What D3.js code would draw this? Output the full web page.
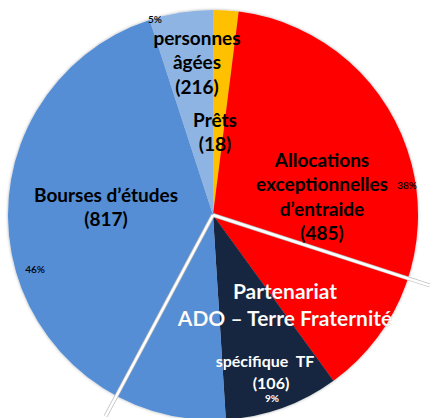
<!DOCTYPE html>
<html>
<head>
<meta charset="utf-8">
<script src="https://cdn.jsdelivr.net/npm/d3@7"></script>
<style>
  body { margin: 0; background: #fff; }
  svg { display: block; }
  text { white-space: pre; }
</style>
</head>
<body>
<div class="pie-plot"></div>
<script>
// data
const categories = ["Prêts", "Allocations exceptionnelles d’entraide", "spécifique TF", "Bourses d’études", "personnes âgées"];
const shares = [2, 38, 9, 46, 5];          // percent
const counts = [18, 485, 106, 817, 216];
const pctLabels = ["", "38%", "9%", "46%", "5%"];
// partenariat ADO - Terre Fraternité, from / to on the same percent scale
const partenariatRange = [30, 57.8];

const colors = ["#FFC000", "#FF0000", "#15263F", "#558ED5", "#8EB4E3"];

const width = 430;
const height = 418;
const cx = 213, cy = 215, radius = 205;

const svg = d3.select('.pie-plot')
  .append('svg')
  .attr('width', width)
  .attr('height', height)

const defs = svg.append("defs")
const f = defs.append("filter").attr("id", "shadow")
  .attr("x", "-10%").attr("y", "-10%").attr("width", "120%").attr("height", "120%")
f.append("feDropShadow").attr("dx", 0).attr("dy", 0).attr("stdDeviation", 1.5)
  .attr("flood-color", "#000").attr("flood-opacity", 0.35)

const g = svg.append("g").attr("transform", `translate(${cx},${cy})`)

const data = categories.map((c, i) => ({ name: c, share: shares[i], count: counts[i], pct: pctLabels[i], color: colors[i] }))

const pie = d3.pie().value(d => d.share).sort(null)
const arc = d3.arc().innerRadius(0).outerRadius(radius)
const arcs = pie(data)

g.append("g").attr("filter", "url(#shadow)")
  .selectAll("path")
  .data(arcs)
  .enter()
  .append("path")
  .attr("d", arc)
  .attr("fill", d => d.data.color)

// white separator lines for the partenariat group
const angle = d3.scaleLinear().domain([0, d3.sum(shares)]).range([0, 2 * Math.PI])
const lineLen = radius + 23
g.selectAll("line.sep")
  .data(partenariatRange)
  .enter()
  .append("line")
  .attr("class", "sep")
  .attr("x1", 0).attr("y1", 0)
  .attr("x2", d => Math.sin(angle(d)) * lineLen)
  .attr("y2", d => -Math.cos(angle(d)) * lineLen)
  .attr("stroke", "#bbb")
  .attr("stroke-width", 4)
g.selectAll("line.sep2")
  .data(partenariatRange)
  .enter()
  .append("line")
  .attr("x1", 0).attr("y1", 0)
  .attr("x2", d => Math.sin(angle(d)) * lineLen)
  .attr("y2", d => -Math.cos(angle(d)) * lineLen)
  .attr("stroke", "#fff")
  .attr("stroke-width", 2.5)

// label layout (offsets from the pie centre)
const font = "Lato, 'Open Sans', sans-serif"
const labelLines = {
  "Prêts": { x: 2, y: -88, lines: ["Prêts", "(18)"] },
  "Allocations exceptionnelles d’entraide": { x: 109, y: -48, lines: ["Allocations", "exceptionnelles", "d’entraide", "(485)"] },
  "spécifique TF": { x: 52, y: 152, lines: ["spécifique  TF", "(106)"], fill: "#fff", size: 16, step: 21.5 },
  "Bourses d’études": { x: -107, y: -13, lines: ["Bourses d’études", "(817)"] },
  "personnes âgées": { x: -16, y: -170, lines: ["personnes", "âgées", "(216)"] }
}
const pctPos = {
  "Allocations exceptionnelles d’entraide": { x: 194, y: -26 },
  "spécifique TF": { x: 59, y: 187, fill: "#fff" },
  "Bourses d’études": { x: -178, y: 58 },
  "personnes âgées": { x: -58, y: -192 }
}

data.forEach(d => {
  const l = labelLines[d.name]
  g.append("text")
    .attr("text-anchor", "middle")
    .attr("font-family", font)
    .attr("font-weight", "bold")
    .attr("font-size", l.size || 19)
    .attr("fill", l.fill || "#000")
    .selectAll("tspan")
    .data(l.lines)
    .enter()
    .append("tspan")
    .attr("x", (t, i) => l.x + (d.name == "spécifique TF" && i == 1 ? 6 : 0))
    .attr("y", (t, i) => l.y + i * (l.step || 24.3))
    .text(t => t)
  const p = pctPos[d.name]
  if (p) {
    g.append("text")
      .attr("x", p.x).attr("y", p.y)
      .attr("text-anchor", "middle")
      .attr("font-family", font)
      .attr("font-weight", d.name == "spécifique TF" ? "bold" : 600)
      .attr("font-size", 10)
      .attr("fill", p.fill || "#000")
      .text(d.pct)
  }
})

// group title
g.append("text")
  .attr("text-anchor", "middle")
  .attr("font-family", font)
  .attr("font-weight", "bold")
  .attr("font-size", 21)
  .attr("fill", "#fff")
  .attr("stroke", "rgba(0,0,0,0.15)")
  .attr("stroke-width", 0.6)
  .selectAll("tspan")
  .data(["Partenariat", "ADO – Terre Fraternité"])
  .enter()
  .append("tspan")
  .attr("x", 72)
  .attr("y", (t, i) => 84 + i * 27)
  .text(t => t)
</script>
</body>
</html>
